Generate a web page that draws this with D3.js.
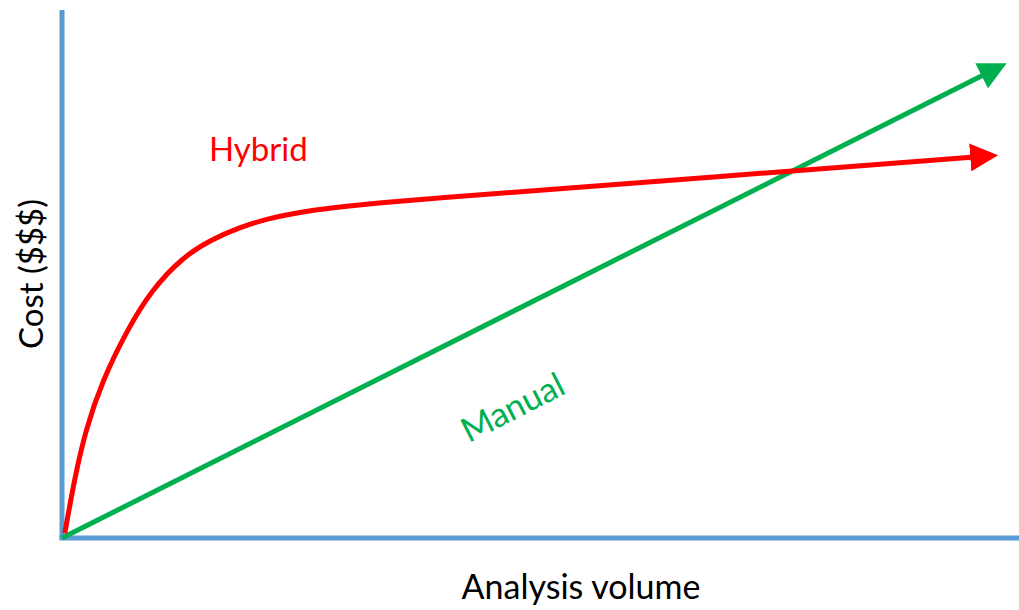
<!DOCTYPE html>
<html>
<head>
<meta charset="utf-8">
<script src="https://cdn.jsdelivr.net/npm/d3@7/dist/d3.min.js"></script>
<style>
  html, body { margin: 0; padding: 0; background: #fff; }
  svg { display: block; }
  text { font-family: Lato, "Open Sans", sans-serif; }
</style>
</head>
<body>
<svg id="chart" width="1019" height="610"></svg>
<script>
// Analysis volume (x) vs cost (y), arbitrary units 0-100
const hybridVolume = [0.3, 1.3, 2.5, 4.3, 6.9, 9.5, 12.8, 15.7, 18.9, 22.0, 25.2, 28.4, 33.7, 40.0, 49.6, 67.6, 96.3];
const hybridCost   = [0.9, 11.0, 20.5, 29.9, 39.4, 47.0, 53.2, 56.4, 58.9, 60.6, 61.7, 62.5, 63.5, 64.4, 65.7, 68.2, 72.1];
const manualVolume = [0, 97.5];
const manualCost   = [0, 87.6];
const seriesNames  = ["Hybrid", "Manual"];
const xTitle = "Analysis volume";
const yTitle = "Cost ($$$)";

const svg = d3.select("#chart");
const x = d3.scaleLinear().domain([0, 100]).range([62, 1006]);
const y = d3.scaleLinear().domain([0, 100]).range([538, 10]);

const axisColor = "#5B9BD5";
const red = "#FF0000";
const green = "#00B050";

// markers
const defs = svg.append("defs");
function marker(id, color) {
  defs.append("marker")
    .attr("id", id)
    .attr("viewBox", "0 0 10 10")
    .attr("refX", 0.3).attr("refY", 5)
    .attr("markerUnits", "userSpaceOnUse")
    .attr("markerWidth", 28).attr("markerHeight", 28)
    .attr("orient", "auto")
    .append("path").attr("d", "M0,0 L10,5 L0,10 Z").attr("fill", color);
}
marker("arrRed", red);
marker("arrGreen", green);

// axes (no ticks)
svg.append("line")
  .attr("x1", x(0)).attr("x2", x(0))
  .attr("y1", y(100)).attr("y2", y(0) + 2)
  .attr("stroke", axisColor).attr("stroke-width", 5);
svg.append("line")
  .attr("x1", x(0) - 2.5).attr("x2", 1019)
  .attr("y1", y(0)).attr("y2", y(0))
  .attr("stroke", axisColor).attr("stroke-width", 5);

// lines
const line = d3.line().x(d => x(d[0])).y(d => y(d[1])).curve(d3.curveBasis);
const hybrid = hybridVolume.map((v, i) => [v, hybridCost[i]]);
const manual = manualVolume.map((v, i) => [v, manualCost[i]]);

svg.append("path").datum(manual)
  .attr("d", d3.line().x(d => x(d[0])).y(d => y(d[1])))
  .attr("fill", "none").attr("stroke", green).attr("stroke-width", 5)
  .attr("marker-end", "url(#arrGreen)");

svg.append("path").datum(hybrid)
  .attr("d", line)
  .attr("fill", "none").attr("stroke", red).attr("stroke-width", 5)
  .attr("marker-end", "url(#arrRed)");

// labels
svg.append("text").text(seriesNames[0])
  .attr("x", 209).attr("y", 161)
  .attr("fill", red).attr("font-size", 33);

svg.append("text").text(seriesNames[1])
  .attr("text-anchor", "middle")
  .attr("transform", "translate(518,418) rotate(-27)")
  .attr("fill", green).attr("font-size", 34);

svg.append("text").text(xTitle)
  .attr("x", 581).attr("y", 599)
  .attr("text-anchor", "middle")
  .attr("fill", "#000").attr("font-size", 34);

svg.append("text").text(yTitle)
  .attr("text-anchor", "middle")
  .attr("transform", "translate(43,274) rotate(-90)")
  .attr("fill", "#000").attr("font-size", 33);
</script>
</body>
</html>
